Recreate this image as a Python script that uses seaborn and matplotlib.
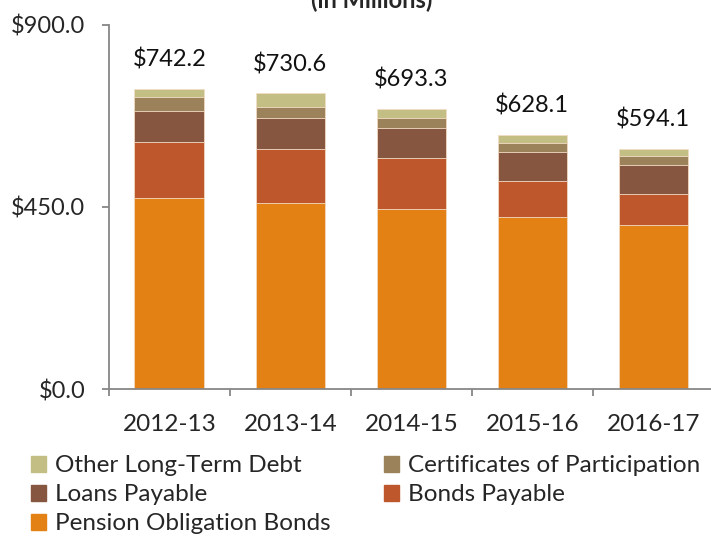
import pandas as pd
import seaborn as sns
import matplotlib.pyplot as plt
from matplotlib.patches import Patch

# data (in millions)
years = ["2012-13", "2013-14", "2014-15", "2015-16", "2016-17"]
pension = [472, 459, 444, 426, 406]
bonds = [138, 134, 126, 87, 76]
loans = [77, 76, 76, 74, 71]
certificates = [34, 29, 25, 22, 22]
other = [21.2, 32.6, 22.3, 19.1, 19.1]

series_names = ["Pension Obligation Bonds", "Bonds Payable", "Loans Payable",
                "Certificates of Participation", "Other Long-Term Debt"]
colors = ["#E48114", "#BE572C", "#865640", "#9B825A", "#C3BE84"]

df = pd.DataFrame({"year": years, "pension": pension, "bonds": bonds,
                   "loans": loans, "cert": certificates, "other": other})
cols = ["pension", "bonds", "loans", "cert", "other"]

sns.set_style("white")
plt.rcParams["font.family"] = ["Lato", "DejaVu Sans"]

fig = plt.figure(figsize=(7.11, 5.37), dpi=100)
ax = fig.add_axes([0.153, 0.2756, 0.851, 0.678])

# stacked bars: draw cumulative totals from the top segment down
for i in range(len(cols) - 1, -1, -1):
    cum = df[cols[:i + 1]].sum(axis=1)
    sns.barplot(x=df["year"], y=cum, color=colors[i], width=0.575,
                edgecolor="#f3dcc6", linewidth=0.6, saturation=1, ax=ax)

totals = df[cols].sum(axis=1)
for j, t in enumerate(totals):
    ax.annotate(f"${t:,.1f}", (j, t), xytext=(0, 21), textcoords="offset points",
                ha="center", va="center", fontsize=17, color="#111111")

ax.set_ylim(0, 900)
ax.set_yticks([0, 450, 900])
ax.set_yticklabels(["$0.0", "$450.0", "$900.0"])
ax.set_xlim(-0.5, 4.5)
ax.set_xticks([-0.5, 0.5, 1.5, 2.5, 3.5, 4.5], minor=False)
ax.set_xticklabels([])
ax.set_xticks(range(len(years)), minor=True)
ax.set_xticklabels(years, minor=True)
ax.set_xlabel("")
ax.set_ylabel("")

for s in ["top", "right"]:
    ax.spines[s].set_visible(False)
for s in ["left", "bottom"]:
    ax.spines[s].set_color("#878787")
    ax.spines[s].set_linewidth(1.3)

ax.tick_params(axis="y", which="major", length=5, width=1.3, color="#878787",
               labelsize=17, pad=12, left=True)
ax.tick_params(axis="x", which="major", length=5, width=1.3, color="#878787",
               direction="out", bottom=True)
ax.tick_params(axis="x", which="minor", length=0, labelsize=17.5, pad=18)

# legend, row-major order like the original
handles = [Patch(color=colors[4]), Patch(color=colors[2]), Patch(color=colors[0]),
           Patch(color=colors[3]), Patch(color=colors[1])]
labels = [series_names[4], series_names[2], series_names[0],
          series_names[3], series_names[1]]
fig.legend(handles, labels, ncol=2, loc="upper left", bbox_to_anchor=(0.0436, 0.152),
           frameon=False, fontsize=17.5, handlelength=0.63, handleheight=0.63,
           handletextpad=0.35, columnspacing=2.2, labelspacing=0.33,
           borderaxespad=0, borderpad=0)

# title sits mostly above the canvas, as in the original crop
fig.text(372 / 711, 0.985, "(in Millions)", ha="center", va="baseline",
         fontsize=17, fontweight="bold")

fig.savefig("out.png", dpi=100)
